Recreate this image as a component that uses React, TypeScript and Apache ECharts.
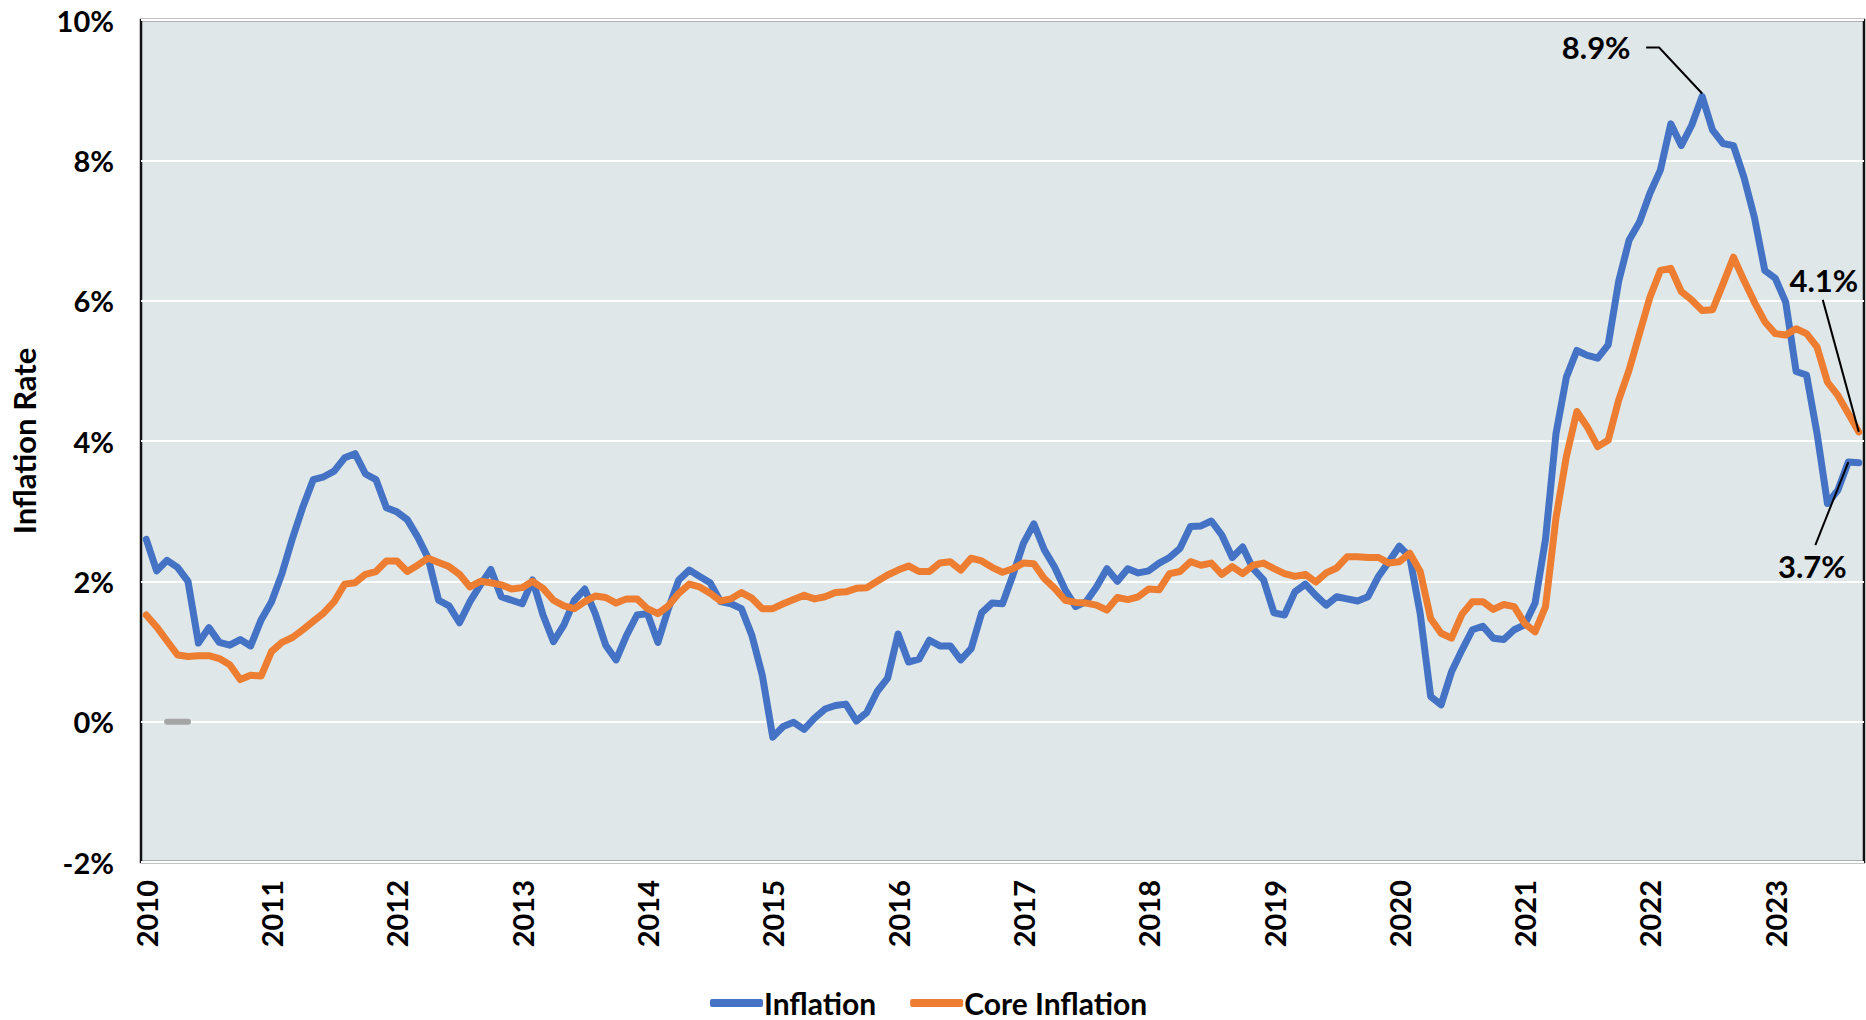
import React, { useEffect, useRef } from "react";
import * as echarts from "echarts";

const years = [2010, 2011, 2012, 2013, 2014, 2015, 2016, 2017, 2018, 2019, 2020, 2021, 2022, 2023];
const monthsInLastYear = 9;

const inflation = [
  2.6, 2.15, 2.3, 2.2, 2.0, 1.12, 1.34, 1.13, 1.09, 1.17, 1.08, 1.45,
  1.71, 2.11, 2.61, 3.06, 3.45, 3.49, 3.57, 3.76, 3.82, 3.53, 3.45, 3.05,
  2.99, 2.88, 2.63, 2.33, 1.73, 1.65, 1.41, 1.71, 1.95, 2.17, 1.78, 1.73,
  1.68, 2.02, 1.52, 1.14, 1.38, 1.73, 1.89, 1.54, 1.09, 0.88, 1.23, 1.52,
  1.54, 1.13, 1.61, 2.02, 2.16, 2.07, 1.98, 1.71, 1.68, 1.61, 1.23, 0.66,
  -0.22, -0.07, -0.01, -0.11, 0.05, 0.18, 0.23, 0.25, 0.01, 0.13, 0.43, 0.62,
  1.25, 0.85, 0.89, 1.16, 1.08, 1.08, 0.88, 1.04, 1.55, 1.69, 1.68, 2.09,
  2.54, 2.82, 2.45, 2.2, 1.88, 1.64, 1.71, 1.92, 2.18, 2.0, 2.18, 2.12,
  2.15, 2.26, 2.34, 2.47, 2.78, 2.79, 2.86, 2.66, 2.34, 2.49, 2.18, 2.02,
  1.55, 1.52, 1.85, 1.96, 1.8, 1.66, 1.78, 1.75, 1.72, 1.78, 2.07, 2.28,
  2.5, 2.35, 1.54, 0.36, 0.24, 0.71, 1.02, 1.31, 1.36, 1.19, 1.17, 1.31,
  1.38, 1.69, 2.6, 4.1, 4.91, 5.29, 5.22, 5.18, 5.37, 6.27, 6.86, 7.12,
  7.53, 7.86, 8.52, 8.21, 8.5, 8.91, 8.43, 8.24, 8.21, 7.76, 7.19, 6.43,
  6.32, 5.98, 4.99, 4.94, 4.11, 3.11, 3.3, 3.7, 3.69,
];

const coreInflation = [
  1.52, 1.35, 1.15, 0.95, 0.93, 0.94, 0.94, 0.9, 0.81, 0.6, 0.66, 0.65,
  1.0, 1.13, 1.2, 1.31, 1.43, 1.55, 1.71, 1.96, 1.98, 2.1, 2.14, 2.29,
  2.29, 2.14, 2.23, 2.33, 2.27, 2.21, 2.1, 1.92, 2.0, 1.98, 1.95, 1.89,
  1.91, 2.0, 1.9, 1.73, 1.65, 1.61, 1.71, 1.79, 1.77, 1.69, 1.75, 1.75,
  1.61, 1.54, 1.65, 1.83, 1.96, 1.92, 1.83, 1.72, 1.75, 1.84, 1.76, 1.61,
  1.61, 1.68, 1.74, 1.8, 1.75, 1.78, 1.84, 1.85, 1.9, 1.91, 2.0, 2.09,
  2.16, 2.22, 2.14, 2.14, 2.26, 2.28, 2.16, 2.33, 2.29, 2.2, 2.13, 2.18,
  2.26, 2.25, 2.04, 1.9, 1.73, 1.7, 1.69, 1.66, 1.59, 1.77, 1.74, 1.78,
  1.89, 1.88, 2.11, 2.14, 2.28, 2.23, 2.26, 2.1, 2.21, 2.11, 2.23, 2.26,
  2.18, 2.11, 2.07, 2.1, 1.99, 2.12, 2.19, 2.35, 2.35, 2.34, 2.34, 2.26,
  2.28, 2.4, 2.14, 1.47, 1.26, 1.19, 1.53, 1.71, 1.71, 1.6, 1.67, 1.64,
  1.4, 1.28, 1.64, 2.9, 3.78, 4.42, 4.2, 3.92, 4.01, 4.58, 5.01, 5.53,
  6.05, 6.43, 6.46, 6.13, 6.01, 5.86, 5.87, 6.24, 6.62, 6.29, 5.98, 5.7,
  5.53, 5.51, 5.6, 5.53, 5.34, 4.84, 4.65, 4.39, 4.13,
];

// small grey stub sitting on the 0% line (third, unlabelled series)
const greyStub: (number | null)[] = [null, null, 0, 0, 0];

const yTicks = { min: -2, max: 10, interval: 2 };
const annotations = { peak: "8.9%", core: "4.1%", headline: "3.7%" };

const categories: string[] = [];
years.forEach((y, yi) => {
  const n = yi === years.length - 1 ? monthsInLastYear : 12;
  for (let m = 1; m <= n; m++) categories.push(`${y}-${String(m).padStart(2, "0")}`);
});

const FONT = "Lato";

export default function App() {
  const ref = useRef<HTMLDivElement>(null);

  useEffect(() => {
    const chart = echarts.init(ref.current!, null, { renderer: "svg" });
    const stubData = categories.map((_, i) => (i < greyStub.length ? greyStub[i] : null));

    chart.setOption({
      animation: false,
      textStyle: { fontFamily: FONT },
      grid: {
        left: 140,
        right: 2,
        top: 20,
        bottom: 158,
        show: true,
        backgroundColor: "#dfe7e9",
        borderColor: "#111111",
        borderWidth: 2.5,
        containLabel: false,
      },
      legend: {
        data: ["Inflation", "Core Inflation"],
        left: 710,
        top: 988,
        padding: 0,
        icon: "roundRect",
        itemWidth: 53,
        itemHeight: 8,
        itemGap: 34,
        textStyle: {
          fontFamily: FONT,
          fontSize: 30,
          fontWeight: "bold",
          color: "#000",
          lineHeight: 30,
          padding: [0, 0, 0, -4],
        },
      },
      xAxis: {
        type: "category",
        data: categories,
        boundaryGap: true,
        axisLine: { show: false },
        axisTick: { show: false },
        splitLine: { show: false },
        axisLabel: {
          interval: (idx: number) => idx % 12 === 0,
          formatter: (v: string) => v.slice(0, 4),
          rotate: 90,
          margin: 18,
          fontFamily: FONT,
          fontSize: 29,
          fontWeight: "bold",
          color: "#000",
        },
      },
      yAxis: {
        type: "value",
        min: yTicks.min,
        max: yTicks.max,
        interval: yTicks.interval,
        name: "Inflation Rate",
        nameLocation: "middle",
        nameRotate: 90,
        nameGap: 102,
        nameTextStyle: { fontFamily: FONT, fontSize: 31, fontWeight: "bold", color: "#000" },
        axisLine: { show: false },
        axisTick: { show: false },
        splitLine: { show: true, lineStyle: { color: "#ffffff", width: 2 } },
        axisLabel: {
          formatter: "{value}%",
          margin: 27,
          fontFamily: FONT,
          fontSize: 29,
          fontWeight: "bold",
          color: "#000",
        },
      },
      series: [
        {
          name: "grey",
          type: "line",
          data: stubData,
          symbol: "none",
          connectNulls: false,
          color: "#a5a5a5",
          lineStyle: { width: 6, color: "#a5a5a5", cap: "round" },
          silent: true,
          z: 1,
        },
        {
          name: "Inflation",
          type: "line",
          data: inflation,
          symbol: "none",
          color: "#4472c4",
          lineStyle: { width: 7, color: "#4472c4", cap: "round", join: "round" },
          z: 2,
        },
        {
          name: "Core Inflation",
          type: "line",
          data: coreInflation,
          symbol: "none",
          color: "#ed7d31",
          lineStyle: { width: 7, color: "#ed7d31", cap: "round", join: "round" },
          z: 3,
        },
      ],
    });

    const px = (i: number, v: number) => chart.convertToPixel({ gridIndex: 0 }, [i, v]) as number[];
    let peakIdx = 0;
    inflation.forEach((v, i) => { if (v > inflation[peakIdx]) peakIdx = i; });
    const peak = px(peakIdx, inflation[peakIdx]);
    const lastCore = px(coreInflation.length - 1, coreInflation[coreInflation.length - 1]);
    const hIdx = inflation.length - 2;
    const head = px(hIdx, inflation[hIdx]);

    const txt = (text: string, x: number, y: number) => ({
      type: "text",
      x,
      y,
      z: 100,
      style: {
        text,
        fontFamily: FONT,
        fontSize: 31,
        fontWeight: "bold",
        fill: "#000",
        align: "center",
        verticalAlign: "middle",
      },
    });
    const leader = (points: number[][]) => ({
      type: "polyline",
      z: 100,
      shape: { points },
      style: { stroke: "#000", lineWidth: 2, fill: null },
    });

    chart.setOption({
      graphic: [
        txt(annotations.peak, peak[0] - 106, peak[1] - 49),
        leader([
          [peak[0] - 56, peak[1] - 49],
          [peak[0] - 43, peak[1] - 49],
          [peak[0], peak[1] - 3],
        ]),
        txt(annotations.core, lastCore[0] - 35, lastCore[1] - 152),
        leader([
          [lastCore[0] - 36, lastCore[1] - 132],
          [lastCore[0], lastCore[1]],
        ]),
        txt(annotations.headline, head[0] - 36, head[1] + 104),
        leader([
          [head[0] - 33, head[1] + 83],
          [head[0], head[1]],
        ]),
      ],
    });

    return () => chart.dispose();
  }, []);

  return (
    <div
      ref={ref}
      style={{ position: "fixed", left: 0, top: 0, width: 1866, height: 1020, background: "#fff" }}
    />
  );
}
